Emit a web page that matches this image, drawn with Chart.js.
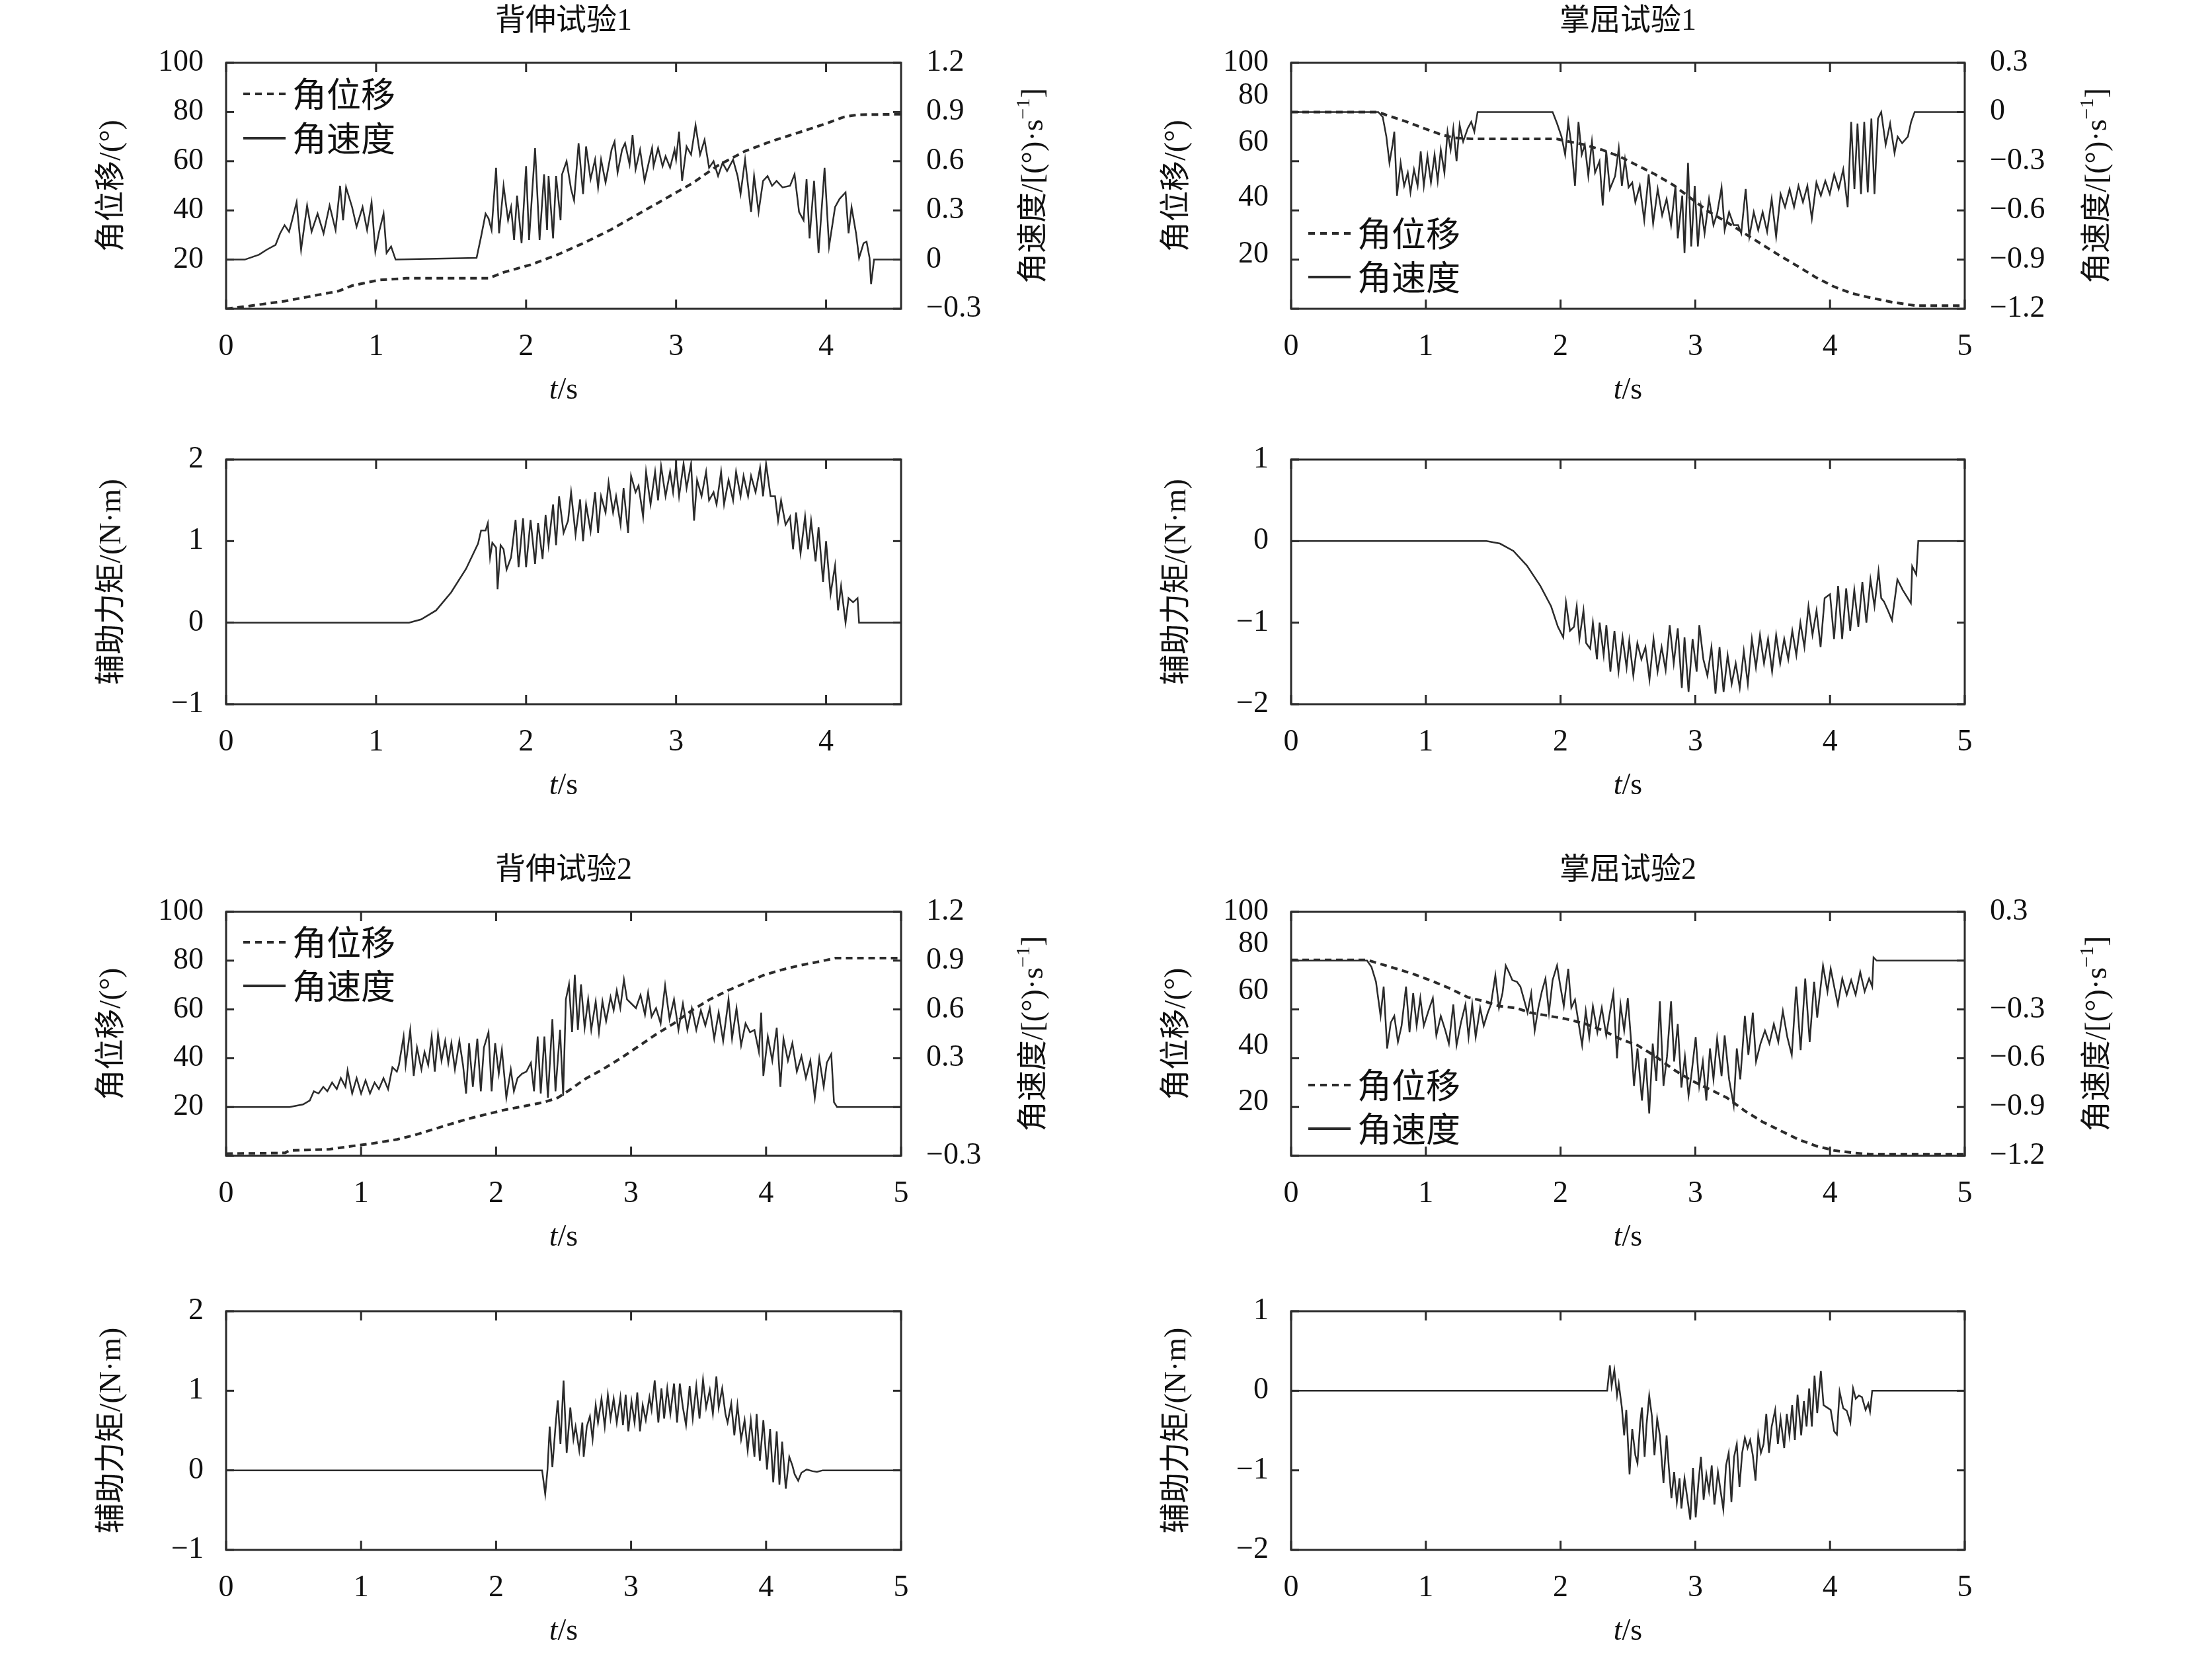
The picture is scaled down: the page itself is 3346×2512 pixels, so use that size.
<!DOCTYPE html>
<html>
<head>
<meta charset="utf-8">
<script src="https://cdn.jsdelivr.net/npm/chart.js@4.4.1/dist/chart.umd.min.js"></script>
<style>
  body { margin: 0; background: #fff; width: 3346px; height: 2512px; position: relative; overflow: hidden; }
  .panel { position: absolute; }
</style>
</head>
<body>
<script>
// ---- data: [time s, value] ----
const TITLES = ["背伸试验1", "掌屈试验1", "背伸试验2", "掌屈试验2"];
const LEGEND_LABELS = ["角位移", "角速度"];
const Y_TITLE_ANGLE = "角位移/(°)";
const Y_TITLE_TORQUE = "辅助力矩/(N·m)";
const Y2_TITLE = ["角速度/[(°)·s", "−1", "]"];
const X_TITLE = ["t", "/s"];
const ODD_LEFT_LABELS = ["20", "40", "60", "80", "100"];

// 背伸试验1
const EXT1_DISP = [[0,0],[0.125,0.9],[0.39,3.1],[0.75,7.2],[0.84,9.4],[1.02,11.7],[1.2,12.4],[1.75,12.4],[1.85,14.8],[2.03,17.9],[2.21,22],[2.39,26.9],[2.57,32.3],[2.75,38.6],[2.93,44.8],[3.11,51.1],[3.28,58.3],[3.46,64.1],[3.64,68.2],[3.82,71.7],[4.0,75.3],[4.12,78],[4.21,78.9],[4.5,79.1]];
const EXT1_VEL = [[0,0],[0.125,0],[0.22,0.03],[0.27,0.06],[0.33,0.09],[0.36,0.16],[0.39,0.21],[0.42,0.17],[0.44,0.24],[0.47,0.35],[0.5,0.06],[0.54,0.33],[0.57,0.17],[0.61,0.28],[0.65,0.16],[0.69,0.33],[0.73,0.18],[0.76,0.45],[0.78,0.24],[0.8,0.44],[0.84,0.32],[0.87,0.2],[0.91,0.32],[0.94,0.18],[0.97,0.35],[0.995,0.05],[1.02,0.17],[1.05,0.28],[1.07,0.04],[1.1,0.08],[1.13,0],[1.67,0.01],[1.7,0.14],[1.73,0.28],[1.75,0.25],[1.77,0.18],[1.8,0.56],[1.82,0.16],[1.85,0.45],[1.88,0.24],[1.9,0.32],[1.92,0.12],[1.94,0.39],[1.97,0.1],[2.0,0.57],[2.02,0.12],[2.06,0.68],[2.09,0.12],[2.12,0.52],[2.14,0.18],[2.15,0.51],[2.18,0.13],[2.2,0.51],[2.23,0.24],[2.24,0.52],[2.27,0.6],[2.3,0.43],[2.32,0.36],[2.35,0.71],[2.38,0.4],[2.4,0.69],[2.43,0.49],[2.46,0.61],[2.48,0.44],[2.5,0.61],[2.53,0.47],[2.57,0.67],[2.59,0.72],[2.61,0.53],[2.64,0.67],[2.66,0.71],[2.69,0.58],[2.71,0.76],[2.73,0.55],[2.76,0.67],[2.79,0.48],[2.84,0.68],[2.85,0.57],[2.88,0.68],[2.91,0.57],[2.93,0.63],[2.96,0.56],[2.99,0.67],[3.0,0.61],[3.02,0.78],[3.04,0.48],[3.07,0.69],[3.1,0.64],[3.13,0.82],[3.16,0.64],[3.19,0.73],[3.22,0.56],[3.25,0.6],[3.28,0.51],[3.31,0.59],[3.34,0.54],[3.38,0.61],[3.41,0.51],[3.43,0.4],[3.46,0.61],[3.5,0.29],[3.52,0.51],[3.55,0.29],[3.58,0.48],[3.61,0.51],[3.64,0.45],[3.67,0.48],[3.71,0.44],[3.76,0.45],[3.79,0.52],[3.82,0.29],[3.85,0.24],[3.87,0.49],[3.89,0.13],[3.92,0.48],[3.95,0.04],[3.99,0.56],[4.02,0.08],[4.06,0.32],[4.09,0.37],[4.13,0.41],[4.15,0.16],[4.17,0.32],[4.2,0.16],[4.22,0.01],[4.25,0.1],[4.27,0.11],[4.29,0.01],[4.3,-0.15],[4.32,0],[4.5,0]];
const EXT1_TORQUE = [[0,0],[1.22,0],[1.3,0.04],[1.4,0.15],[1.5,0.37],[1.6,0.66],[1.68,0.97],[1.7,1.13],[1.73,1.13],[1.745,1.22],[1.76,0.8],[1.775,0.98],[1.8,0.92],[1.81,0.41],[1.83,0.95],[1.85,0.9],[1.87,0.65],[1.9,0.8],[1.93,1.26],[1.95,0.68],[1.98,1.28],[2.0,0.68],[2.03,1.26],[2.06,0.72],[2.08,1.22],[2.11,0.78],[2.13,1.32],[2.15,0.95],[2.18,1.45],[2.2,0.95],[2.22,1.55],[2.25,1.1],[2.28,1.25],[2.3,1.6],[2.33,1.08],[2.36,1.51],[2.38,1.0],[2.4,1.45],[2.43,1.12],[2.46,1.6],[2.48,1.1],[2.5,1.55],[2.53,1.35],[2.55,1.72],[2.58,1.35],[2.6,1.55],[2.63,1.2],[2.65,1.65],[2.68,1.1],[2.7,1.8],[2.73,1.6],[2.75,1.68],[2.78,1.3],[2.8,1.85],[2.83,1.45],[2.86,1.85],[2.88,1.5],[2.9,1.92],[2.93,1.55],[2.96,1.85],[2.98,1.6],[3.0,1.93],[3.02,1.55],[3.05,1.95],[3.07,1.65],[3.1,1.95],[3.12,1.25],[3.14,1.75],[3.17,1.55],[3.2,1.85],[3.22,1.5],[3.25,1.6],[3.27,1.45],[3.3,1.85],[3.32,1.45],[3.35,1.75],[3.38,1.5],[3.4,1.85],[3.43,1.55],[3.45,1.8],[3.48,1.55],[3.5,1.8],[3.53,1.6],[3.56,1.9],[3.58,1.55],[3.6,1.95],[3.63,1.55],[3.66,1.55],[3.68,1.25],[3.7,1.5],[3.73,1.2],[3.76,1.3],[3.78,0.9],[3.8,1.35],[3.83,0.85],[3.86,1.3],[3.88,0.9],[3.9,1.25],[3.93,0.75],[3.95,1.17],[3.98,0.5],[4.0,1.0],[4.03,0.35],[4.06,0.7],[4.08,0.15],[4.1,0.45],[4.13,0.0],[4.15,0.3],[4.18,0.25],[4.21,0.3],[4.22,0],[4.5,0]];

// 掌屈试验1
const FLEX1_DISP = [[0,80],[0.647,80],[0.7,78.9],[0.85,76.2],[0.98,73.5],[1.11,70.9],[1.21,69.5],[1.34,69.1],[1.97,69.1],[2.04,68.2],[2.17,66.8],[2.31,64.6],[2.44,61.9],[2.57,58.3],[2.7,54.7],[2.84,50.2],[2.97,44.8],[3.1,39.5],[3.24,35.0],[3.37,30.5],[3.5,26.0],[3.63,21.5],[3.77,17.0],[3.9,12.6],[4.03,9.0],[4.16,6.3],[4.3,4.5],[4.46,2.7],[4.63,1.3],[5,1.3]];
const FLEX1_VEL = [[0,0],[0.647,0],[0.68,-0.03],[0.707,-0.15],[0.73,-0.31],[0.753,-0.2],[0.766,-0.12],[0.786,-0.51],[0.813,-0.31],[0.839,-0.45],[0.866,-0.37],[0.886,-0.49],[0.912,-0.35],[0.939,-0.45],[0.962,-0.24],[0.985,-0.45],[1.012,-0.27],[1.038,-0.43],[1.065,-0.26],[1.088,-0.42],[1.111,-0.23],[1.138,-0.37],[1.161,-0.12],[1.184,-0.23],[1.204,-0.1],[1.228,-0.3],[1.251,-0.08],[1.277,-0.18],[1.311,-0.1],[1.337,-0.06],[1.36,-0.12],[1.384,0],[1.443,0],[1.941,0],[1.974,-0.07],[2.007,-0.15],[2.034,-0.26],[2.057,-0.06],[2.08,-0.2],[2.107,-0.45],[2.133,-0.06],[2.157,-0.26],[2.18,-0.2],[2.206,-0.39],[2.233,-0.18],[2.256,-0.37],[2.289,-0.3],[2.313,-0.57],[2.339,-0.24],[2.366,-0.47],[2.405,-0.39],[2.432,-0.22],[2.455,-0.45],[2.478,-0.29],[2.505,-0.46],[2.532,-0.43],[2.555,-0.55],[2.588,-0.45],[2.621,-0.66],[2.654,-0.38],[2.687,-0.68],[2.721,-0.47],[2.754,-0.63],[2.787,-0.53],[2.82,-0.69],[2.853,-0.45],[2.87,-0.77],[2.903,-0.51],[2.92,-0.86],[2.946,-0.31],[2.97,-0.82],[2.996,-0.45],[3.019,-0.82],[3.042,-0.58],[3.069,-0.74],[3.102,-0.53],[3.135,-0.69],[3.162,-0.62],[3.195,-0.46],[3.218,-0.72],[3.251,-0.61],[3.285,-0.69],[3.318,-0.69],[3.341,-0.74],[3.374,-0.47],[3.401,-0.76],[3.434,-0.61],[3.467,-0.72],[3.5,-0.61],[3.533,-0.73],[3.567,-0.53],[3.6,-0.76],[3.633,-0.5],[3.666,-0.58],[3.7,-0.47],[3.733,-0.58],[3.766,-0.45],[3.799,-0.55],[3.832,-0.45],[3.865,-0.65],[3.899,-0.43],[3.932,-0.51],[3.965,-0.42],[3.998,-0.5],[4.031,-0.38],[4.064,-0.47],[4.098,-0.35],[4.131,-0.58],[4.157,-0.06],[4.181,-0.47],[4.204,-0.07],[4.23,-0.5],[4.254,-0.06],[4.28,-0.49],[4.307,-0.04],[4.33,-0.5],[4.356,-0.04],[4.38,0],[4.413,-0.2],[4.446,-0.07],[4.479,-0.25],[4.502,-0.15],[4.535,-0.19],[4.578,-0.15],[4.602,-0.06],[4.628,0],[5,0]];
const FLEX1_TORQUE = [[0,0],[1.45,0],[1.55,-0.03],[1.65,-0.12],[1.75,-0.3],[1.85,-0.55],[1.93,-0.8],[1.98,-1.05],[2.02,-1.18],[2.04,-0.75],[2.07,-1.1],[2.1,-1.05],[2.12,-0.8],[2.14,-1.2],[2.17,-0.85],[2.19,-1.25],[2.22,-1.32],[2.24,-1.0],[2.27,-1.45],[2.29,-1.0],[2.32,-1.4],[2.34,-1.03],[2.37,-1.6],[2.4,-1.1],[2.43,-1.6],[2.46,-1.18],[2.49,-1.55],[2.51,-1.22],[2.54,-1.65],[2.57,-1.25],[2.6,-1.45],[2.63,-1.3],[2.66,-1.7],[2.69,-1.2],[2.72,-1.6],[2.75,-1.3],[2.78,-1.58],[2.81,-1.03],[2.84,-1.5],[2.87,-1.07],[2.9,-1.8],[2.92,-1.18],[2.95,-1.85],[2.98,-1.2],[3.01,-1.6],[3.03,-1.03],[3.06,-1.45],[3.09,-1.65],[3.12,-1.3],[3.15,-1.87],[3.18,-1.3],[3.21,-1.85],[3.24,-1.4],[3.27,-1.75],[3.3,-1.5],[3.33,-1.8],[3.36,-1.35],[3.39,-1.75],[3.42,-1.2],[3.45,-1.55],[3.48,-1.15],[3.51,-1.5],[3.54,-1.2],[3.57,-1.6],[3.6,-1.15],[3.63,-1.5],[3.66,-1.2],[3.69,-1.45],[3.72,-1.1],[3.75,-1.4],[3.78,-1.0],[3.81,-1.3],[3.84,-0.8],[3.87,-1.15],[3.9,-0.85],[3.93,-1.3],[3.96,-0.7],[4.0,-0.65],[4.03,-1.2],[4.06,-0.55],[4.09,-1.2],[4.12,-0.58],[4.15,-1.1],[4.18,-0.6],[4.21,-1.05],[4.24,-0.5],[4.27,-1.0],[4.3,-0.47],[4.33,-0.8],[4.36,-0.37],[4.38,-0.7],[4.4,-0.74],[4.43,-0.85],[4.46,-0.97],[4.5,-0.47],[4.54,-0.6],[4.6,-0.76],[4.61,-0.31],[4.64,-0.41],[4.655,0],[5,0]];

// 背伸试验2
const EXT2_DISP = [[0,0.9],[0.437,1.2],[0.47,2.2],[0.768,2.7],[0.934,4.0],[1.066,4.9],[1.265,6.7],[1.397,8.5],[1.53,10.8],[1.662,13.0],[1.795,15.2],[1.927,17.0],[2.06,18.8],[2.192,20.2],[2.358,22.0],[2.457,23.8],[2.556,27.4],[2.656,31.4],[2.788,35.4],[2.921,39.9],[3.053,44.8],[3.185,49.8],[3.318,54.3],[3.45,59.6],[3.583,64.1],[3.715,67.7],[3.848,70.9],[3.98,74.0],[4.113,76.2],[4.245,78.0],[4.411,79.8],[4.51,81.0],[5,81.0]];
const EXT2_VEL = [[0,0],[0.47,0],[0.57,0.016],[0.62,0.04],[0.65,0.097],[0.685,0.083],[0.72,0.124],[0.75,0.097],[0.785,0.151],[0.82,0.11],[0.85,0.178],[0.884,0.124],[0.9,0.225],[0.934,0.083],[0.967,0.178],[1.0,0.083],[1.033,0.164],[1.066,0.083],[1.1,0.151],[1.132,0.11],[1.166,0.178],[1.2,0.11],[1.232,0.245],[1.265,0.218],[1.28,0.258],[1.315,0.433],[1.33,0.258],[1.364,0.474],[1.39,0.191],[1.414,0.366],[1.447,0.231],[1.47,0.339],[1.497,0.258],[1.523,0.433],[1.546,0.218],[1.57,0.447],[1.596,0.285],[1.623,0.406],[1.646,0.272],[1.669,0.393],[1.695,0.231],[1.728,0.406],[1.755,0.258],[1.778,0.083],[1.8,0.393],[1.828,0.124],[1.861,0.42],[1.887,0.097],[1.91,0.366],[1.944,0.46],[1.967,0.097],[1.993,0.393],[2.02,0.205],[2.043,0.352],[2.076,0.057],[2.109,0.231],[2.132,0.097],[2.159,0.178],[2.192,0.205],[2.225,0.218],[2.258,0.272],[2.281,0.097],[2.308,0.433],[2.331,0.083],[2.358,0.433],[2.384,0.057],[2.417,0.54],[2.44,0.097],[2.474,0.474],[2.497,0.07],[2.517,0.662],[2.54,0.754],[2.563,0.46],[2.583,0.814],[2.606,0.474],[2.629,0.754],[2.656,0.487],[2.682,0.662],[2.705,0.474],[2.738,0.649],[2.762,0.46],[2.788,0.649],[2.815,0.528],[2.848,0.676],[2.871,0.595],[2.894,0.716],[2.92,0.608],[2.947,0.783],[2.97,0.662],[3.003,0.635],[3.036,0.608],[3.07,0.689],[3.103,0.568],[3.126,0.703],[3.152,0.555],[3.185,0.608],[3.219,0.514],[3.252,0.747],[3.285,0.54],[3.318,0.662],[3.351,0.474],[3.384,0.635],[3.417,0.474],[3.45,0.608],[3.483,0.474],[3.517,0.595],[3.55,0.501],[3.583,0.608],[3.616,0.42],[3.649,0.582],[3.682,0.406],[3.722,0.662],[3.748,0.42],[3.781,0.608],[3.815,0.379],[3.848,0.514],[3.881,0.46],[3.914,0.474],[3.947,0.339],[3.964,0.58],[3.98,0.191],[4.013,0.433],[4.046,0.285],[4.079,0.487],[4.106,0.124],[4.129,0.42],[4.162,0.285],[4.195,0.393],[4.228,0.218],[4.262,0.312],[4.295,0.178],[4.328,0.285],[4.361,0.057],[4.394,0.299],[4.427,0.124],[4.45,0.272],[4.483,0.325],[4.503,0.03],[4.526,0],[5,0]];
const EXT2_TORQUE = [[0,0],[2.341,0],[2.364,-0.3],[2.381,0.01],[2.397,0.55],[2.417,0.04],[2.44,0.55],[2.457,0.88],[2.477,0.33],[2.5,1.13],[2.523,0.22],[2.55,0.79],[2.573,0.39],[2.589,0.55],[2.616,0.25],[2.639,0.6],[2.649,0.17],[2.672,0.55],[2.695,0.68],[2.715,0.39],[2.738,0.82],[2.755,0.6],[2.781,0.9],[2.805,0.55],[2.828,0.95],[2.848,0.65],[2.871,0.9],[2.894,0.6],[2.921,0.92],[2.94,0.57],[2.96,0.95],[2.98,0.49],[3.003,0.87],[3.026,0.6],[3.046,0.98],[3.066,0.49],[3.086,0.82],[3.109,0.63],[3.136,0.92],[3.152,0.76],[3.175,1.13],[3.202,0.6],[3.225,1.03],[3.245,0.65],[3.268,1.03],[3.291,0.71],[3.318,1.09],[3.341,0.6],[3.361,1.09],[3.384,0.79],[3.407,0.57],[3.434,1.06],[3.457,0.65],[3.483,1.06],[3.507,0.65],[3.533,1.14],[3.556,0.79],[3.583,1.01],[3.606,0.71],[3.632,1.18],[3.649,0.79],[3.675,1.03],[3.699,0.71],[3.715,0.6],[3.742,0.84],[3.765,0.44],[3.788,0.82],[3.815,0.39],[3.841,0.63],[3.864,0.25],[3.887,0.63],[3.914,0.17],[3.93,0.71],[3.954,0.12],[3.98,0.63],[4.007,0.01],[4.03,0.52],[4.053,-0.15],[4.079,0.49],[4.099,-0.18],[4.119,0.36],[4.146,-0.23],[4.172,0.17],[4.195,0.06],[4.212,-0.05],[4.238,-0.13],[4.262,-0.03],[4.301,0.01],[4.344,-0.01],[4.377,-0.02],[4.42,0],[5,0]];

// 掌屈试验2
const FLEX2_DISP = [[0,80.3],[0.564,80.3],[0.647,78.9],[0.78,76.7],[0.912,74.4],[1.045,71.7],[1.178,68.6],[1.311,65.0],[1.443,63.2],[1.543,61.4],[1.675,60.5],[1.775,58.7],[1.908,57.4],[2.04,56.1],[2.173,54.3],[2.306,51.6],[2.439,48.0],[2.571,45.3],[2.704,40.8],[2.837,35.4],[2.97,30.9],[3.102,27.4],[3.235,23.8],[3.368,18.4],[3.5,13.9],[3.633,10.3],[3.766,6.7],[3.898,4.0],[4.031,2.2],[4.164,1.3],[4.297,0.6],[5,0.6]];
const FLEX2_VEL = [[0,0],[0.564,0],[0.597,-0.04],[0.63,-0.13],[0.664,-0.34],[0.687,-0.16],[0.713,-0.54],[0.74,-0.38],[0.766,-0.34],[0.793,-0.5],[0.82,-0.4],[0.853,-0.16],[0.879,-0.44],[0.906,-0.2],[0.932,-0.4],[0.959,-0.23],[0.985,-0.4],[1.019,-0.31],[1.052,-0.23],[1.078,-0.46],[1.111,-0.34],[1.145,-0.43],[1.171,-0.51],[1.204,-0.27],[1.228,-0.52],[1.261,-0.38],[1.294,-0.27],[1.317,-0.47],[1.344,-0.27],[1.37,-0.47],[1.403,-0.29],[1.43,-0.4],[1.46,-0.32],[1.483,-0.27],[1.516,-0.09],[1.543,-0.29],[1.569,-0.2],[1.593,-0.03],[1.616,-0.07],[1.642,-0.12],[1.676,-0.13],[1.702,-0.16],[1.729,-0.24],[1.755,-0.32],[1.782,-0.2],[1.808,-0.43],[1.835,-0.29],[1.861,-0.19],[1.888,-0.11],[1.914,-0.32],[1.941,-0.12],[1.974,-0.03],[1.997,-0.15],[2.024,-0.28],[2.057,-0.05],[2.08,-0.29],[2.107,-0.24],[2.133,-0.38],[2.16,-0.52],[2.187,-0.31],[2.213,-0.47],[2.24,-0.28],[2.273,-0.44],[2.306,-0.29],[2.339,-0.46],[2.366,-0.32],[2.392,-0.2],[2.419,-0.6],[2.445,-0.27],[2.472,-0.43],[2.499,-0.23],[2.525,-0.51],[2.545,-0.77],[2.571,-0.54],[2.604,-0.86],[2.631,-0.6],[2.658,-0.94],[2.684,-0.51],[2.711,-0.74],[2.737,-0.25],[2.764,-0.77],[2.79,-0.59],[2.82,-0.25],[2.843,-0.62],[2.87,-0.39],[2.897,-0.78],[2.923,-0.59],[2.95,-0.83],[2.97,-0.71],[3.003,-0.47],[3.029,-0.77],[3.056,-0.62],[3.082,-0.86],[3.109,-0.54],[3.135,-0.73],[3.162,-0.48],[3.195,-0.71],[3.218,-0.46],[3.251,-0.73],[3.285,-0.89],[3.308,-0.54],[3.334,-0.73],[3.368,-0.34],[3.394,-0.58],[3.427,-0.32],[3.451,-0.62],[3.484,-0.51],[3.517,-0.43],[3.55,-0.51],[3.583,-0.39],[3.616,-0.5],[3.65,-0.31],[3.683,-0.47],[3.716,-0.58],[3.749,-0.16],[3.782,-0.55],[3.816,-0.11],[3.849,-0.5],[3.882,-0.13],[3.905,-0.35],[3.948,-0.03],[3.981,-0.19],[4.005,-0.05],[4.031,-0.16],[4.058,-0.27],[4.091,-0.11],[4.124,-0.21],[4.157,-0.12],[4.19,-0.21],[4.224,-0.07],[4.257,-0.19],[4.29,-0.11],[4.313,-0.16],[4.323,0.02],[4.346,0],[5,0]];
const FLEX2_TORQUE = [[0,0],[2.346,0],[2.366,0.32],[2.379,0.06],[2.399,0.26],[2.419,-0.06],[2.432,0.09],[2.455,-0.21],[2.472,-0.56],[2.488,-0.24],[2.512,-1.05],[2.532,-0.48],[2.555,-0.81],[2.571,-0.91],[2.591,-0.4],[2.604,-0.21],[2.624,-0.83],[2.638,-0.43],[2.658,-0.06],[2.678,-0.32],[2.697,-0.81],[2.717,-0.35],[2.737,-0.56],[2.764,-1.16],[2.787,-0.56],[2.804,-0.97],[2.823,-1.35],[2.843,-1.02],[2.863,-1.4],[2.883,-1.1],[2.897,-1.48],[2.92,-1.1],[2.936,-1.29],[2.963,-1.62],[2.983,-0.97],[3.003,-1.59],[3.023,-1.16],[3.042,-0.83],[3.062,-1.37],[3.082,-1.05],[3.102,-1.26],[3.122,-0.94],[3.142,-1.43],[3.168,-1.02],[3.188,-1.26],[3.208,-1.49],[3.228,-0.94],[3.248,-0.78],[3.268,-1.4],[3.288,-0.83],[3.308,-0.67],[3.328,-1.21],[3.348,-0.78],[3.368,-0.59],[3.388,-0.72],[3.407,-0.62],[3.427,-0.81],[3.447,-1.13],[3.467,-0.56],[3.487,-0.78],[3.507,-0.67],[3.527,-0.29],[3.547,-0.78],[3.567,-0.45],[3.593,-0.24],[3.613,-0.67],[3.633,-0.35],[3.66,-0.72],[3.679,-0.29],[3.699,-0.56],[3.719,-0.18],[3.739,-0.62],[3.759,-0.05],[3.786,-0.56],[3.806,-0.13],[3.826,-0.45],[3.845,0.03],[3.865,-0.45],[3.885,0.19],[3.905,-0.28],[3.932,0.25],[3.952,-0.18],[3.978,-0.21],[4.005,-0.24],[4.031,-0.51],[4.051,-0.55],[4.071,-0.01],[4.098,-0.22],[4.124,-0.25],[4.151,-0.4],[4.171,0.03],[4.191,-0.1],[4.214,-0.06],[4.237,-0.08],[4.264,-0.24],[4.284,-0.16],[4.297,-0.26],[4.313,0],[5,0]];

// ---- drawing ----
const INK = "#2b2b2b";
const NUM_FONT = "46px 'Liberation Serif'";
const CJK_FONT = "46px 'Liberation Serif', 'Noto Sans CJK SC'";
const fmt = (v) => {
	const s = Math.abs(v) < 1e-9 ? "0" : (Math.round(v * 10) / 10).toString();
	return s.replace("-", "\u2212");
};

const framePlugin = {
	id: "frame",
	afterDraw(chart, args, o) {
		const { ctx, chartArea: a } = chart;
		ctx.save();
		ctx.strokeStyle = INK;
		ctx.lineWidth = 3;
		ctx.strokeRect(a.left, a.top, a.right - a.left, a.bottom - a.top);
		const mark = (x1, y1, x2, y2) => { ctx.beginPath(); ctx.moveTo(x1, y1); ctx.lineTo(x2, y2); ctx.stroke(); };
		const xs = chart.scales.x;
		xs.ticks.forEach((t) => {
			const p = xs.getPixelForValue(t.value);
			mark(p, a.bottom, p, a.bottom - 14);
			mark(p, a.top, p, a.top + 14);
		});
		const ys = chart.scales.y2 || chart.scales.y;
		ys.ticks.forEach((t) => {
			const p = ys.getPixelForValue(t.value);
			mark(a.left, p, a.left + 12, p);
			mark(a.right, p, a.right - 12, p);
		});

		ctx.fillStyle = "#111";
		// panel title
		if (o.title) {
			ctx.font = CJK_FONT;
			ctx.textAlign = "center";
			ctx.textBaseline = "middle";
			ctx.fillText(o.title, (a.left + a.right) / 2, a.top - 62);
		}
		// x title: italic t + /s
		ctx.textBaseline = "middle";
		ctx.textAlign = "left";
		ctx.font = "italic " + NUM_FONT;
		const w1 = ctx.measureText(X_TITLE[0]).width;
		ctx.font = NUM_FONT;
		const w2 = ctx.measureText(X_TITLE[1]).width;
		const cx = (a.left + a.right) / 2 - (w1 + w2) / 2;
		ctx.font = "italic " + NUM_FONT;
		ctx.fillText(X_TITLE[0], cx, a.bottom + 124);
		ctx.font = NUM_FONT;
		ctx.fillText(X_TITLE[1], cx + w1, a.bottom + 124);

		// left title
		ctx.save();
		ctx.translate(a.left - 172, (a.top + a.bottom) / 2);
		ctx.rotate(-Math.PI / 2);
		ctx.font = CJK_FONT;
		ctx.textAlign = "center";
		ctx.fillText(o.yTitle, 0, 0);
		ctx.restore();

		// right title with superscript
		if (o.y2) {
			ctx.save();
			ctx.translate(a.right + 202, (a.top + a.bottom) / 2);
			ctx.rotate(-Math.PI / 2);
			ctx.font = CJK_FONT;
			const s1 = ctx.measureText(Y2_TITLE[0]).width;
			const s3 = ctx.measureText(Y2_TITLE[2]).width;
			ctx.font = "30px 'Liberation Serif'";
			const s2 = ctx.measureText(Y2_TITLE[1]).width;
			let x = -(s1 + s2 + s3) / 2;
			ctx.textAlign = "left";
			ctx.font = CJK_FONT;
			ctx.fillText(Y2_TITLE[0], x, 0);
			ctx.font = "30px 'Liberation Serif'";
			ctx.fillText(Y2_TITLE[1], x + s1, -16);
			ctx.font = CJK_FONT;
			ctx.fillText(Y2_TITLE[2], x + s1 + s2, 0);
			ctx.restore();
		}

		// legend
		if (o.legendY) {
			ctx.font = "52px 'Noto Sans CJK SC'";
			ctx.textAlign = "left";
			ctx.lineWidth = 4;
			o.legendY.forEach((dy, i) => {
				const y = a.top + dy;
				ctx.setLineDash(i === 0 ? [10, 8] : []);
				mark(a.left + 26, y, a.left + 90, y);
				ctx.setLineDash([]);
				ctx.fillText(LEGEND_LABELS[i], a.left + 100, y);
			});
		}
		ctx.restore();
	},
};

const toXY = (arr) => arr.map(([x, y]) => ({ x, y }));

function panel(frame, opt) {
	const L = 200, R = 230, T = 95, B = 175;
	const div = document.createElement("div");
	div.className = "panel";
	div.style.left = frame[0] - L + "px";
	div.style.top = frame[1] - T + "px";
	div.style.width = frame[2] - frame[0] + L + R + "px";
	div.style.height = frame[3] - frame[1] + T + B + "px";
	const cv = document.createElement("canvas");
	div.appendChild(cv);
	document.body.appendChild(div);

	const tickFont = { family: "'Liberation Serif'", size: 46 };
	const scales = {
		x: {
			type: "linear",
			min: 0,
			max: opt.xMax,
			grid: { display: false },
			border: { display: false },
			afterBuildTicks: (s) => { s.ticks = opt.xTicks.map((v) => ({ value: v })); },
			afterFit: (s) => { s.height = B; },
			ticks: { font: tickFont, color: "#111", padding: 22, maxRotation: 0, callback: (v) => fmt(v) },
		},
		y: {
			position: "left",
			min: opt.yRange[0],
			max: opt.yRange[1],
			grid: { display: false },
			border: { display: false },
			afterBuildTicks: (s) => { s.ticks = opt.yTicks.map((v) => ({ value: v })); },
			afterFit: (s) => { s.width = L; },
			ticks: { font: tickFont, color: "#111", padding: 26, callback: opt.yLabel || ((v) => fmt(v)) },
		},
	};
	const datasets = [];
	if (opt.disp) {
		scales.y2 = {
			position: "right",
			min: opt.y2Range[0],
			max: opt.y2Range[1],
			grid: { display: false },
			border: { display: false },
			afterBuildTicks: (s) => { s.ticks = opt.y2Ticks.map((v) => ({ value: v })); },
			afterFit: (s) => { s.width = R; },
			ticks: { font: tickFont, color: "#111", padding: 30, callback: opt.y2Label || ((v) => fmt(v)) },
		};
		datasets.push({ data: toXY(opt.disp), yAxisID: "y", borderColor: INK, borderWidth: 4, borderDash: [10, 7] });
		datasets.push({ data: toXY(opt.vel), yAxisID: "y2", borderColor: INK, borderWidth: 2.5 });
	} else {
		datasets.push({ data: toXY(opt.torque), yAxisID: "y", borderColor: INK, borderWidth: 2.5 });
	}

	new Chart(cv, {
		type: "line",
		data: { datasets },
		plugins: [framePlugin],
		options: {
			responsive: true,
			maintainAspectRatio: false,
			animation: false,
			devicePixelRatio: 1,
			layout: { padding: { top: T, right: opt.disp ? 0 : R, left: 0, bottom: 0 } },
			elements: { point: { radius: 0 }, line: { tension: 0 } },
			plugins: {
				legend: { display: false },
				tooltip: { enabled: false },
				frame: { title: opt.title, yTitle: opt.yTitle, y2: !!opt.disp, legendY: opt.legendY },
			},
			scales,
		},
	});
}

const COL_L = [342, 1363], COL_R = [1953, 2972];
const ROWS = [[95, 467], [695, 1065], [1379, 1748], [1983, 2344]];
const TICKS_45 = [0, 1, 2, 3, 4], TICKS_5 = [0, 1, 2, 3, 4, 5];
const hideZero = (v) => (Math.abs(v) < 1e-9 ? "" : fmt(v));
const ODD_LEFT_POS = [22, 45.1, 67.6, 86.7, 100];
const oddLeft = (v) => ODD_LEFT_LABELS[ODD_LEFT_POS.indexOf(v)];

// 背伸试验1
panel([COL_L[0], ROWS[0][0], COL_L[1], ROWS[0][1]], {
	title: TITLES[0], yTitle: Y_TITLE_ANGLE, xMax: 4.5, xTicks: TICKS_45,
	yRange: [0, 100], yTicks: [20, 40, 60, 80, 100],
	y2Range: [-0.3, 1.2], y2Ticks: [-0.3, 0, 0.3, 0.6, 0.9, 1.2],
	disp: EXT1_DISP, vel: EXT1_VEL, legendY: [47, 114],
});
panel([COL_L[0], ROWS[1][0], COL_L[1], ROWS[1][1]], {
	yTitle: Y_TITLE_TORQUE, xMax: 4.5, xTicks: TICKS_45,
	yRange: [-1, 2], yTicks: [-1, 0, 1, 2], torque: EXT1_TORQUE,
});
// 掌屈试验1
panel([COL_R[0], ROWS[0][0], COL_R[1], ROWS[0][1]], {
	title: TITLES[1], yTitle: Y_TITLE_ANGLE, xMax: 5, xTicks: TICKS_5,
	yRange: [0, 100], yTicks: ODD_LEFT_POS, yLabel: oddLeft,
	y2Range: [-1.2, 0.3], y2Ticks: [-1.2, -0.9, -0.6, -0.3, 0, 0.3],
	disp: FLEX1_DISP, vel: FLEX1_VEL, legendY: [258, 324],
});
panel([COL_R[0], ROWS[1][0], COL_R[1], ROWS[1][1]], {
	yTitle: Y_TITLE_TORQUE, xMax: 5, xTicks: TICKS_5,
	yRange: [-2, 1], yTicks: [-2, -1, 0, 1], torque: FLEX1_TORQUE,
});
// 背伸试验2
panel([COL_L[0], ROWS[2][0], COL_L[1], ROWS[2][1]], {
	title: TITLES[2], yTitle: Y_TITLE_ANGLE, xMax: 5, xTicks: TICKS_5,
	yRange: [0, 100], yTicks: [20, 40, 60, 80, 100],
	y2Range: [-0.3, 1.2], y2Ticks: [-0.3, 0, 0.3, 0.6, 0.9, 1.2], y2Label: hideZero,
	disp: EXT2_DISP, vel: EXT2_VEL, legendY: [46, 112],
});
panel([COL_L[0], ROWS[3][0], COL_L[1], ROWS[3][1]], {
	yTitle: Y_TITLE_TORQUE, xMax: 5, xTicks: TICKS_5,
	yRange: [-1, 2], yTicks: [-1, 0, 1, 2], torque: EXT2_TORQUE,
});
// 掌屈试验2
panel([COL_R[0], ROWS[2][0], COL_R[1], ROWS[2][1]], {
	title: TITLES[3], yTitle: Y_TITLE_ANGLE, xMax: 5, xTicks: TICKS_5,
	yRange: [0, 100], yTicks: ODD_LEFT_POS, yLabel: oddLeft,
	y2Range: [-1.2, 0.3], y2Ticks: [-1.2, -0.9, -0.6, -0.3, 0, 0.3], y2Label: hideZero,
	disp: FLEX2_DISP, vel: FLEX2_VEL, legendY: [262, 328],
});
panel([COL_R[0], ROWS[3][0], COL_R[1], ROWS[3][1]], {
	yTitle: Y_TITLE_TORQUE, xMax: 5, xTicks: TICKS_5,
	yRange: [-2, 1], yTicks: [-2, -1, 0, 1], torque: FLEX2_TORQUE,
});
</script>
</body>
</html>
